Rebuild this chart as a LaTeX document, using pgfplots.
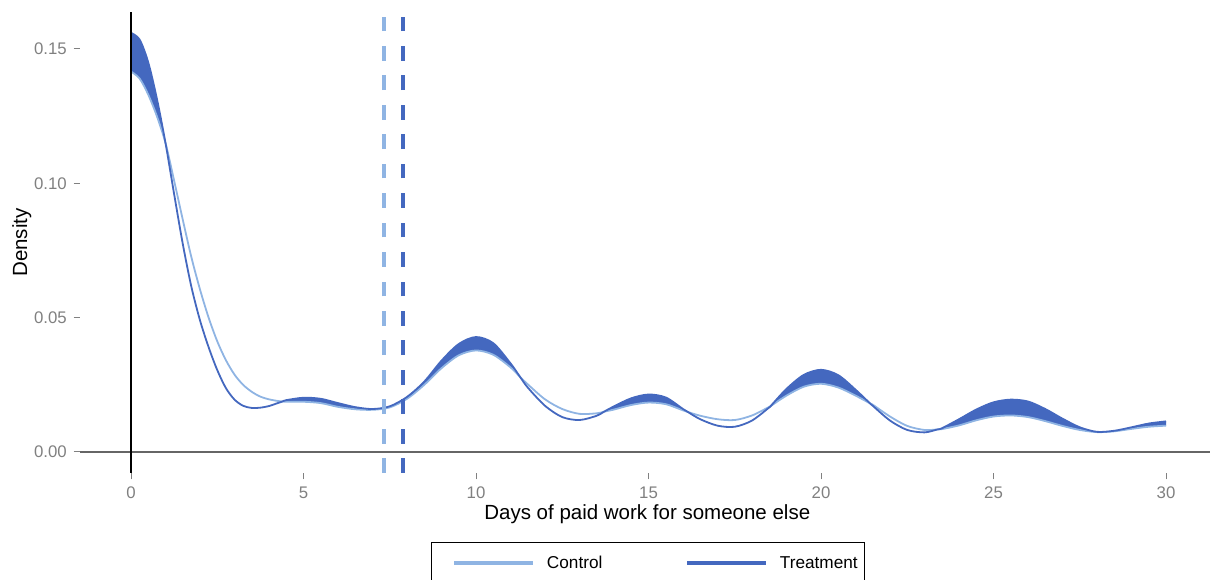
\documentclass[border=0pt]{standalone}
\usepackage{pgfplots}
\pgfplotsset{compat=1.18}
\usepackage{pgfplotstable}
\usepgfplotslibrary{fillbetween}
\usepackage{fontspec}
\setmainfont{Liberation Sans}
\definecolor{ctrl}{HTML}{8FB4E3}
\definecolor{treat}{HTML}{4468BF}
\definecolor{labelgray}{HTML}{808080}
\definecolor{tickgray}{HTML}{808080}
\definecolor{zerogray}{HTML}{666666}

\pgfplotstableread{
x T C
0.00 0.1560 0.1416
0.25 0.1535 0.1390
0.50 0.1450 0.1330
0.75 0.1315 0.1250
1.00 0.1150 0.1150
1.25 0.0960 0.1010
1.50 0.0775 0.0865
1.75 0.0615 0.0725
2.00 0.0490 0.0605
2.25 0.0390 0.0500
2.50 0.0305 0.0412
2.75 0.0238 0.0342
3.00 0.0195 0.0288
3.25 0.0172 0.0250
3.50 0.0164 0.0224
3.75 0.0165 0.0206
4.00 0.0171 0.0196
4.25 0.0182 0.0190
4.39 0.0188 0.0188
4.50 0.0193 0.0187
5.00 0.0202 0.0187
5.50 0.0198 0.0182
6.00 0.0182 0.0168
6.50 0.0167 0.0159
7.00 0.0160 0.0157
7.50 0.0170 0.0166
8.00 0.0205 0.0198
8.50 0.0262 0.0250
9.00 0.0340 0.0312
9.50 0.0402 0.0360
10.00 0.0428 0.0378
10.50 0.0405 0.0362
11.00 0.0330 0.0315
11.28 0.0279 0.0279
11.50 0.0240 0.0252
12.00 0.0172 0.0196
12.50 0.0130 0.0160
13.00 0.0119 0.0142
13.50 0.0135 0.0144
13.71 0.0150 0.0150
14.00 0.0170 0.0158
14.50 0.0200 0.0175
15.00 0.0214 0.0184
15.50 0.0203 0.0178
16.00 0.0160 0.0155
16.14 0.0149 0.0149
16.50 0.0122 0.0135
17.00 0.0098 0.0122
17.50 0.0094 0.0119
18.00 0.0117 0.0136
18.50 0.0166 0.0168
18.54 0.0171 0.0171
19.00 0.0235 0.0210
19.50 0.0287 0.0243
20.00 0.0306 0.0254
20.50 0.0286 0.0240
21.00 0.0232 0.0210
21.42 0.0181 0.0181
21.50 0.0172 0.0176
22.00 0.0117 0.0132
22.50 0.0082 0.0097
23.00 0.0073 0.0082
23.375 0.0084 0.0084
23.50 0.0088 0.0085
24.00 0.0122 0.0099
24.50 0.0158 0.0118
25.00 0.0185 0.0132
25.50 0.0195 0.0136
26.00 0.0188 0.0130
26.50 0.0160 0.0115
27.00 0.0124 0.0097
27.50 0.0092 0.0082
28.00 0.0075 0.0074
28.50 0.0079 0.0077
29.00 0.0092 0.0086
29.50 0.0106 0.0094
30.00 0.0114 0.0098
}\dens

\begin{document}
\begin{tikzpicture}
\begin{axis}[
  at={(80bp,107bp)}, anchor=south west,
  scale only axis, width=1130bp, height=461bp,
  xmin=-1.4783, xmax=31.275, ymin=-0.007816, ymax=0.16377,
  axis line style={draw=none},
  xtick={0,5,...,30}, ytick={0,0.05,0.10,0.15},
  xtick pos=bottom, ytick pos=left, tick align=outside,
  major tick length=6.5bp,
  every tick/.style={draw=tickgray, line width=1bp},
  tick label style={font=\fontsize{16.8bp}{20bp}\selectfont, text=labelgray},
  xticklabel style={anchor=north, inner sep=0pt, yshift=-7.5bp},
  yticklabel style={anchor=east, inner sep=0pt, xshift=-6.5bp,
    /pgf/number format/.cd, fixed, fixed zerofill, precision=2},
  /pgf/number format/assume math mode=true,
  scaled y ticks=false,
  xlabel={Days of paid work for someone else},
  ylabel={Density},
  label style={font=\fontsize{20.5bp}{24bp}\selectfont, inner sep=0pt},
  xlabel style={at={(axis description cs:0.502,-0.1004)}, anchor=base},
  ylabel style={at={(axis description cs:-0.04673,0.5)}, anchor=base, rotate=0},
  legend style={at={(axis description cs:0.3106,-0.1490)}, anchor=north west,
    draw=black, line width=1bp, inner xsep=7bp, inner ysep=14bp,
    font=\fontsize{17.2bp}{20bp}\selectfont, legend columns=2,
    nodes={inner sep=0pt},
    /tikz/every odd column/.append style={column sep=11.5bp},
    /tikz/every even column/.append style={column sep=69bp}},
  legend cell align=left,
  legend image code/.code={\path[draw=none,fill=none] (0bp,0bp) -- (16bp,0bp);
    \draw[#1, line width=4bp] (16bp,0bp) -- (95bp,0bp);},
  clip=true,
  segT/.style={draw=none, smooth, forget plot},
]
% zero line
\addplot[zerogray, line width=1.6bp, forget plot] coordinates {(-1.4783,0) (31.275,0)};
% control density
\addplot[ctrl, line width=1.8bp, smooth] table[x=x, y=C] {\dens};
\addlegendentry{Control}
% band where treatment lies above control
\addplot[segT, name path=T1, restrict x to domain=0:1.0] table[x=x, y=T] {\dens};
\addplot[segT, name path=C1, restrict x to domain=0:1.0] table[x=x, y=C] {\dens};
\addplot[treat, forget plot] fill between[of=T1 and C1];
\addplot[segT, name path=T2, restrict x to domain=4.39:11.28] table[x=x, y=T] {\dens};
\addplot[segT, name path=C2, restrict x to domain=4.39:11.28] table[x=x, y=C] {\dens};
\addplot[treat, forget plot] fill between[of=T2 and C2];
\addplot[segT, name path=T3, restrict x to domain=13.71:16.14] table[x=x, y=T] {\dens};
\addplot[segT, name path=C3, restrict x to domain=13.71:16.14] table[x=x, y=C] {\dens};
\addplot[treat, forget plot] fill between[of=T3 and C3];
\addplot[segT, name path=T4, restrict x to domain=18.54:21.42] table[x=x, y=T] {\dens};
\addplot[segT, name path=C4, restrict x to domain=18.54:21.42] table[x=x, y=C] {\dens};
\addplot[treat, forget plot] fill between[of=T4 and C4];
\addplot[segT, name path=T5, restrict x to domain=23.375:30] table[x=x, y=T] {\dens};
\addplot[segT, name path=C5, restrict x to domain=23.375:30] table[x=x, y=C] {\dens};
\addplot[treat, forget plot] fill between[of=T5 and C5];
% treatment density
\addplot[treat, line width=1.8bp, smooth] table[x=x, y=T] {\dens};
\addlegendentry{Treatment}
% means
\addplot[ctrl, line width=3.5bp, dash pattern=on 14.7bp off 14.75bp, forget plot] coordinates {(7.34,-0.007816) (7.34,0.16377)};
\addplot[treat, line width=3.5bp, dash pattern=on 14.7bp off 14.75bp, forget plot] coordinates {(7.89,-0.007816) (7.89,0.16377)};
% x = 0 line
\addplot[black, line width=1.3bp, forget plot] coordinates {(0,-0.007816) (0,0.16377)};
\end{axis}
\pgfresetboundingbox
\path[use as bounding box] (0,0) rectangle (1210bp,580bp);
\end{tikzpicture}
\end{document}
